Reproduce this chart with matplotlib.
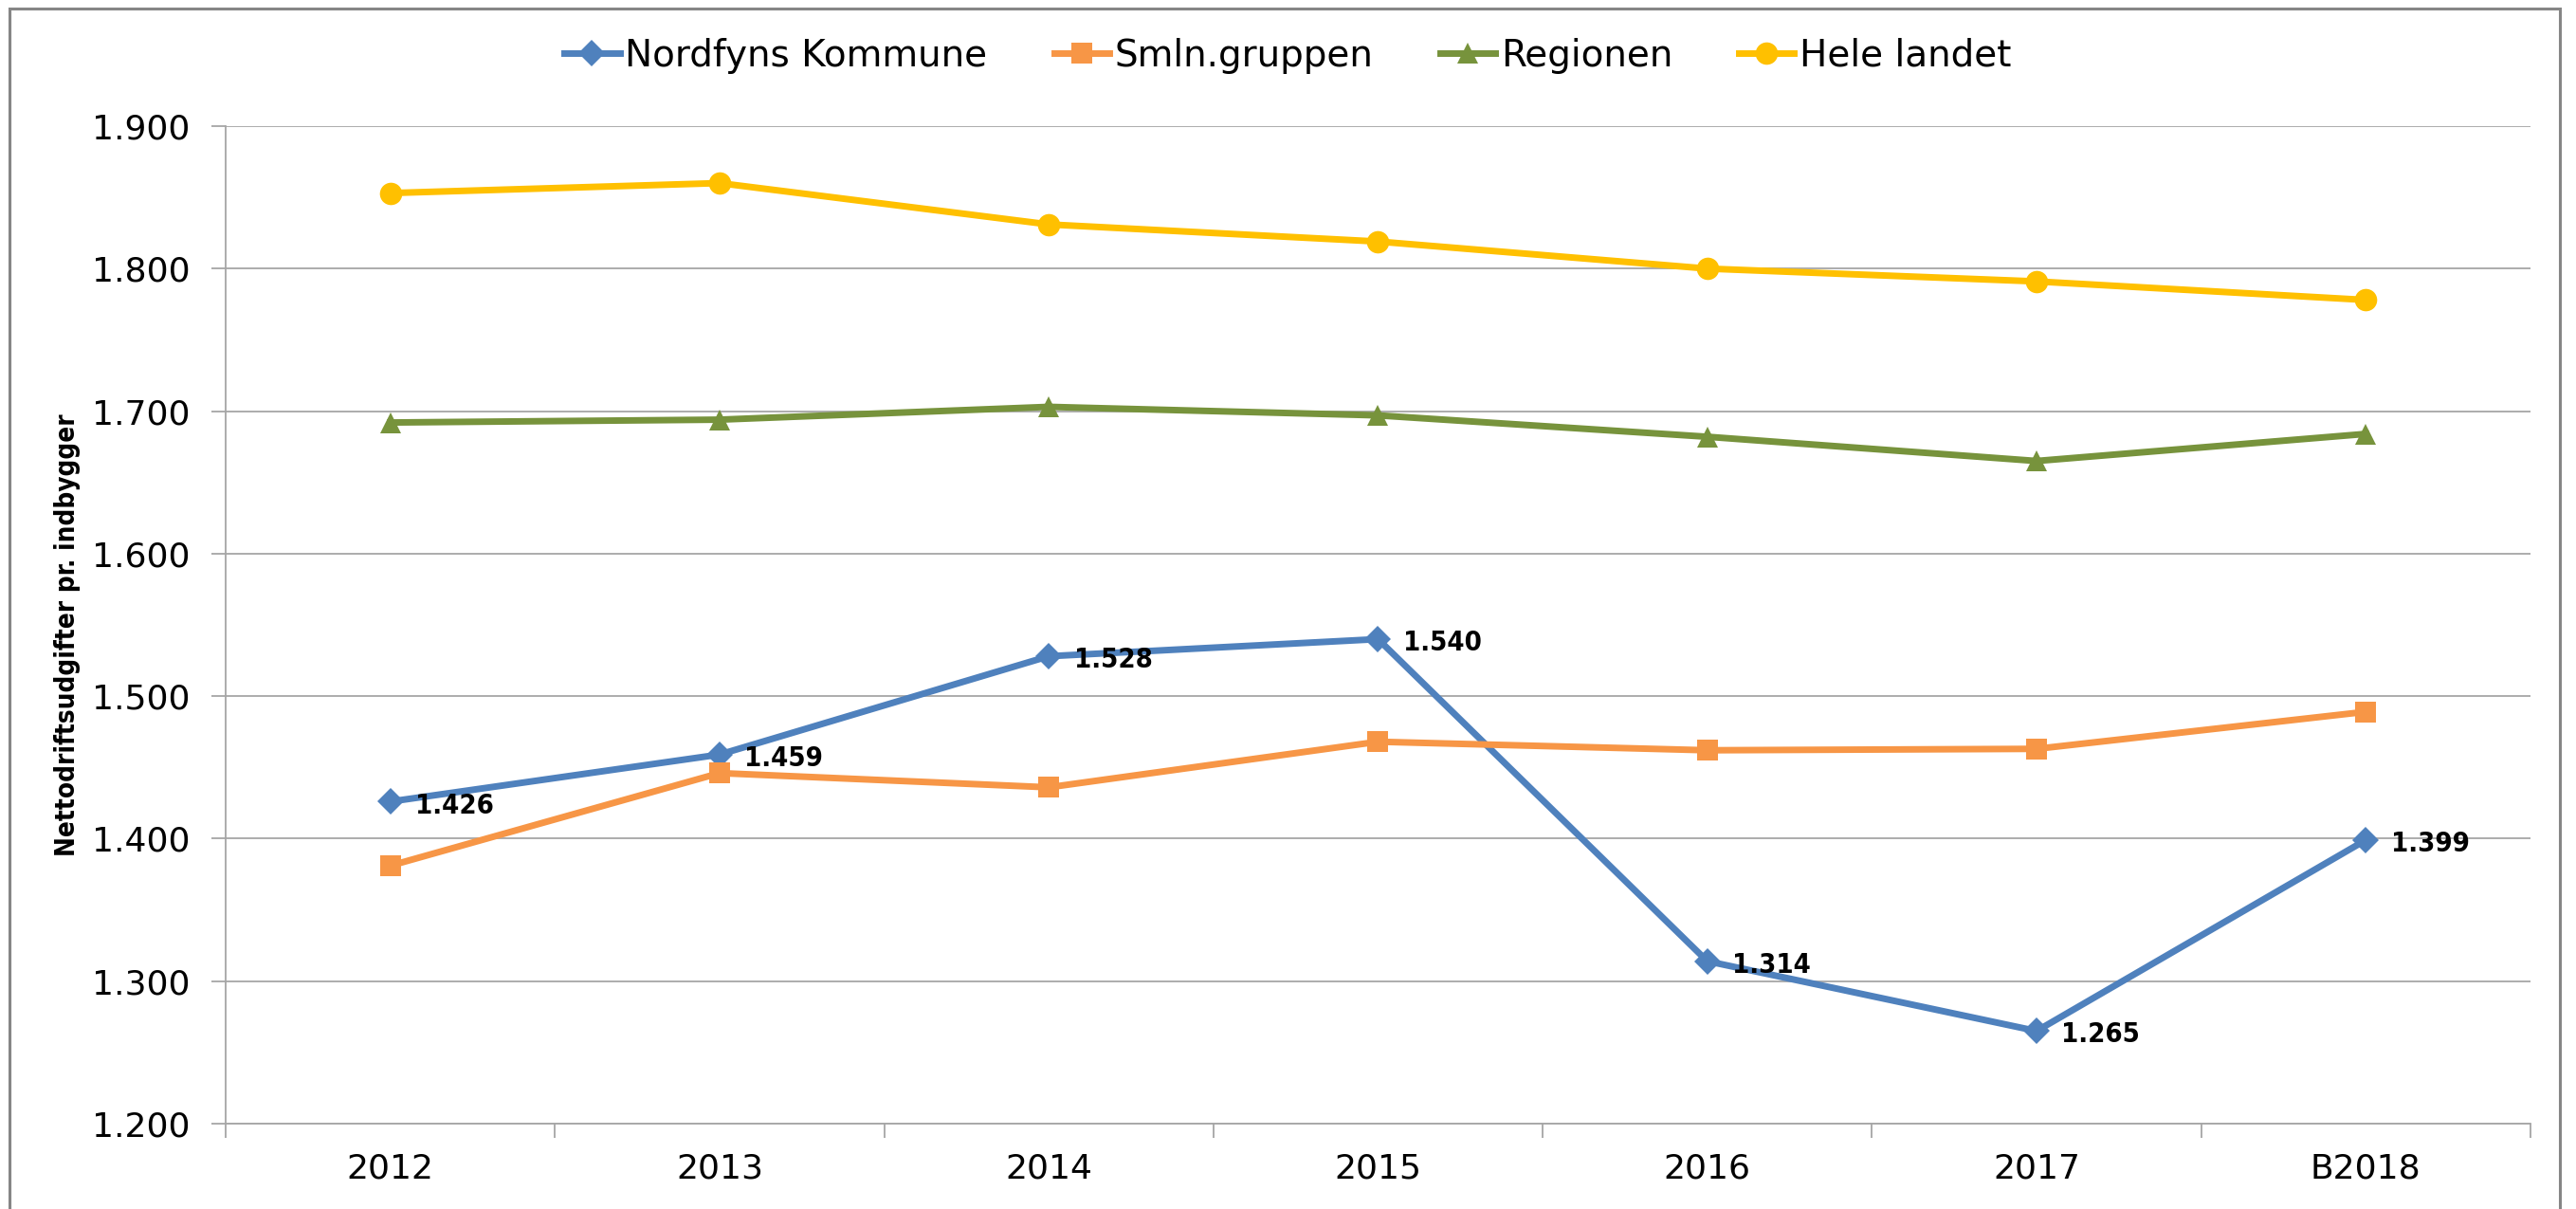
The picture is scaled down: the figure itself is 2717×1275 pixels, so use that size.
import matplotlib
matplotlib.use("Agg")
import matplotlib.pyplot as plt
from matplotlib.patches import Rectangle
from matplotlib.ticker import FuncFormatter
import numpy as np

# data
years = ["2012", "2013", "2014", "2015", "2016", "2017", "B2018"]
nordfyns = [1426, 1459, 1528, 1540, 1314, 1265, 1399]
smln = [1381, 1446, 1436, 1468, 1462, 1463, 1489]
regionen = [1692, 1694, 1703, 1697, 1682, 1665, 1684]
hele_landet = [1853, 1860, 1831, 1819, 1800, 1791, 1778]

series = [
    ("Nordfyns Kommune", nordfyns, "#4F81BD", "D", 14),
    ("Smln.gruppen", smln, "#F79646", "s", 16),
    ("Regionen", regionen, "#77933C", "^", 16),
    ("Hele landet", hele_landet, "#FFC000", "o", 17),
]

plt.rcParams['font.family'] = ['DejaVu Sans']


def dk(v, pos=None):
    # danish thousands separator
    return "{:,.0f}".format(v).replace(",", ".")


fig = plt.figure(figsize=(27.17, 12.75), dpi=100)
ax = fig.add_axes([0.0876, 0.0706, 0.8947, 0.8251])

x = np.arange(len(years))
for name, vals, col, mk, ms in series:
    ax.plot(x, vals, color=col, lw=5, marker=mk, markersize=ms,
            markeredgewidth=0, label=name, zorder=3)

# value labels on the Nordfyns series
for xi, v in zip(x, nordfyns):
    ax.annotate(dk(v), (xi, v), xytext=(19, -3), textcoords="offset points",
                ha="left", va="center", fontsize=21, fontweight="bold",
                fontstretch="condensed", zorder=4)

ax.set_xlim(-0.5, len(years) - 0.5)
ax.set_ylim(1200, 1900)
ax.set_yticks(np.arange(1200, 1901, 100))
ax.yaxis.set_major_formatter(FuncFormatter(dk))
ax.grid(axis="y", color="#A6A6A6", lw=1.3)
ax.set_axisbelow(True)

ax.set_xticks(np.arange(-0.5, len(years)), labels=[])
ax.set_xticks(x, labels=years, minor=True)
ax.tick_params(axis="x", which="major", length=11, width=1.3, color="#A6A6A6", direction="out")
ax.tick_params(axis="x", which="minor", length=0, labelsize=26, pad=22)
ax.tick_params(axis="y", length=11, width=1.3, color="#A6A6A6", labelsize=26, pad=16)

for s in ["top", "right"]:
    ax.spines[s].set_visible(False)
for s in ["left", "bottom"]:
    ax.spines[s].set_color("#A6A6A6")
    ax.spines[s].set_linewidth(1.3)

ax.set_ylabel("Nettodriftsudgifter pr. indbygger", fontsize=20, fontweight="bold",
              fontstretch="condensed")
ax.yaxis.set_label_coords(-0.063, 0.49)

fig.legend(loc="center", bbox_to_anchor=(0.5, 0.954), ncol=4, frameon=False,
           fontsize=28, handlelength=1.5, handletextpad=0.15, columnspacing=1.8)

# outer chart border
fig.add_artist(Rectangle((0.0037, -0.02), 0.99, 1.013, transform=fig.transFigure,
                         fill=False, edgecolor="#868686", lw=2.2))

fig.savefig("out.png", dpi=100)
